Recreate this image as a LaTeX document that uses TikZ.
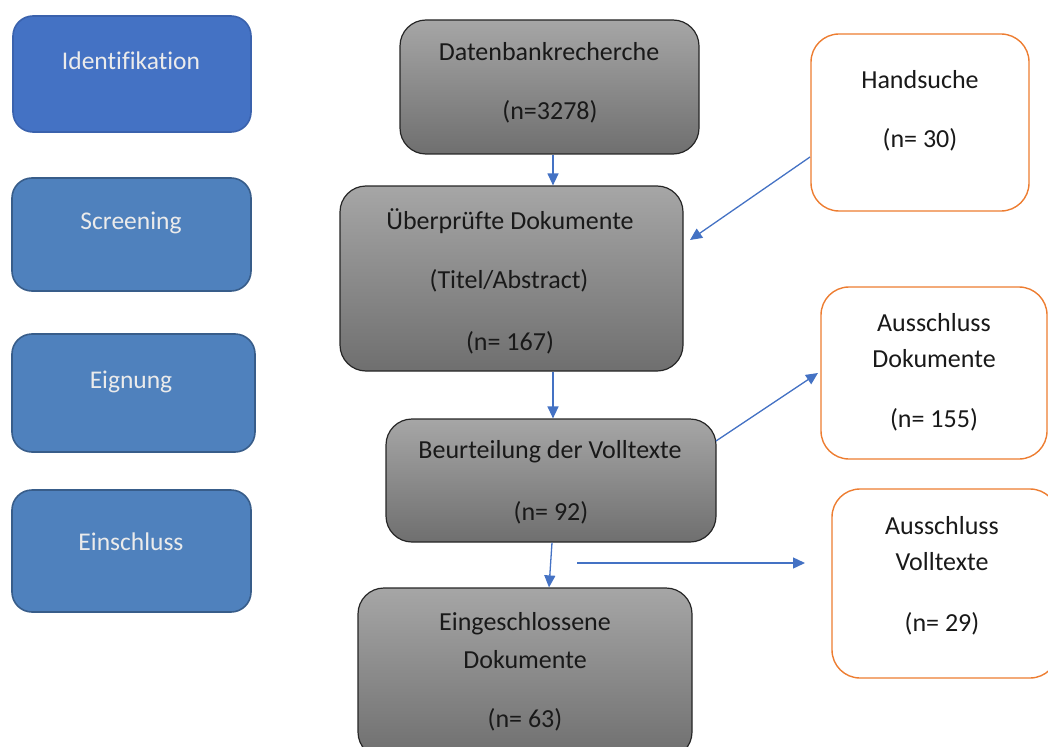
\documentclass[tikz,border=0pt]{standalone}
\usepackage{fontspec}
\setmainfont{Carlito}[Ligatures=NoCommon]
\usetikzlibrary{arrows.meta}
\definecolor{idblue}{HTML}{4472C4}
\definecolor{idline}{HTML}{3A62AD}
\definecolor{phblue}{HTML}{4F81BD}
\definecolor{phline}{HTML}{385D8A}
\definecolor{orng}{HTML}{ED7D31}
\definecolor{arrblue}{HTML}{4472C4}
\definecolor{gtop}{HTML}{A6A6A6}
\definecolor{gbot}{HTML}{6F6F6F}
\begin{document}
\begin{tikzpicture}[x=1pt,y=-1pt,
  phase/.style={draw=phline,line width=1.6pt,fill=phblue,rounded corners=20pt},
  graybox/.style={draw=black!85,line width=1.2pt,rounded corners=26pt,top color=gtop,bottom color=gbot},
  orbox/.style={draw=orng,line width=1.4pt,fill=white,rounded corners=28pt},
  wtxt/.style={text=white!92!black,font=\fontsize{25.5}{30}\selectfont,inner sep=0pt},
  btxt/.style={text=black!90,font=\fontsize{26}{30}\selectfont,inner sep=0pt},
  arr/.style={draw=arrblue,line width=1.3pt,-{Triangle[length=12pt,width=11pt]}}]
\useasboundingbox (0,0) rectangle (1048,746);

% phase boxes
\node[phase,draw=idline,fill=idblue,minimum width=238pt,minimum height=116pt] (idb) at (132,74) {};
\node[wtxt] (idt) at (131,61) {Identifikation};
\node[phase,minimum width=239pt,minimum height=113pt] (scb) at (131.5,234.5) {};
\node[wtxt] (sct) at (131,223) {Screening};
\node[phase,minimum width=243pt,minimum height=118pt] (eib) at (133.5,393) {};
\node[wtxt] (eit) at (131,382) {Eignung};
\node[phase,minimum width=239pt,minimum height=122pt] (exb) at (131.5,551) {};
\node[wtxt] (ext) at (131,542) {Einschluss};

% gray boxes
\node[graybox,minimum width=299pt,minimum height=134pt] (dat) at (549.5,87) {};
\node[btxt] (dat1) at (549,52) {Datenbankrecherche};
\node[btxt] (dat2) at (550,112) {(n=3278)};

\node[graybox,minimum width=343pt,minimum height=185pt] (ueb) at (511.5,278.5) {};
\node[btxt] (ueb1) at (510,221) {Überprüfte Dokumente};
\node[btxt] (ueb2) at (509,281) {(Titel/Abstract)};
\node[btxt] (ueb3) at (510,343) {(n= 167)};

\node[graybox,minimum width=330pt,minimum height=123pt] (beu) at (551,480.5) {};
\node[btxt] (beu1) at (550,452) {Beurteilung der Volltexte};
\node[btxt] (beu2) at (551,513) {(n= 92)};

\node[graybox,minimum width=334pt,minimum height=170pt] (ein) at (525,673) {};
\node[btxt] (ein1) at (525,624) {Eingeschlossene};
\node[btxt] (ein2) at (525,660) {Dokumente};
\node[btxt] (ein3) at (525,720) {(n= 63)};

% orange boxes
\node[orbox,minimum width=218pt,minimum height=177pt] (hand) at (920,122.5) {};
\node[btxt] (hand1) at (920,80) {Handsuche};
\node[btxt] (hand2) at (920,140) {(n= 30)};

\node[orbox,minimum width=226pt,minimum height=172pt] (ad) at (934,373) {};
\node[btxt] (ad1) at (934,323) {Ausschluss};
\node[btxt] (ad2) at (934,359) {Dokumente};
\node[btxt] (ad3) at (934,420) {(n= 155)};

\node[orbox,minimum width=226pt,minimum height=189pt] (av) at (945,583.5) {};
\node[btxt] (av1) at (942,526) {Ausschluss};
\node[btxt] (av2) at (942,562) {Volltexte};
\node[btxt] (av3) at (942,624) {(n= 29)};

% connectors
\coordinate (hs) at (810,157);
\coordinate (he) at (690,240);
\coordinate (bs) at (716,441);
\coordinate (be) at (818,373);
\coordinate (fs) at (577,563);
\coordinate (fe) at (805,563);
\draw[arr] (dat.south -| 553,0) -- (ueb.north -| 553,0);
\draw[arr] (hs) -- (he);
\draw[arr] (ueb.south -| 553,0) -- (beu.north -| 553,0);
\draw[arr] (bs) -- (be);
\draw[arr] (beu.south -| 552,0) -- (ein.north -| 549,0);
\draw[arr] (fs) -- (fe);
\end{tikzpicture}
\end{document}
